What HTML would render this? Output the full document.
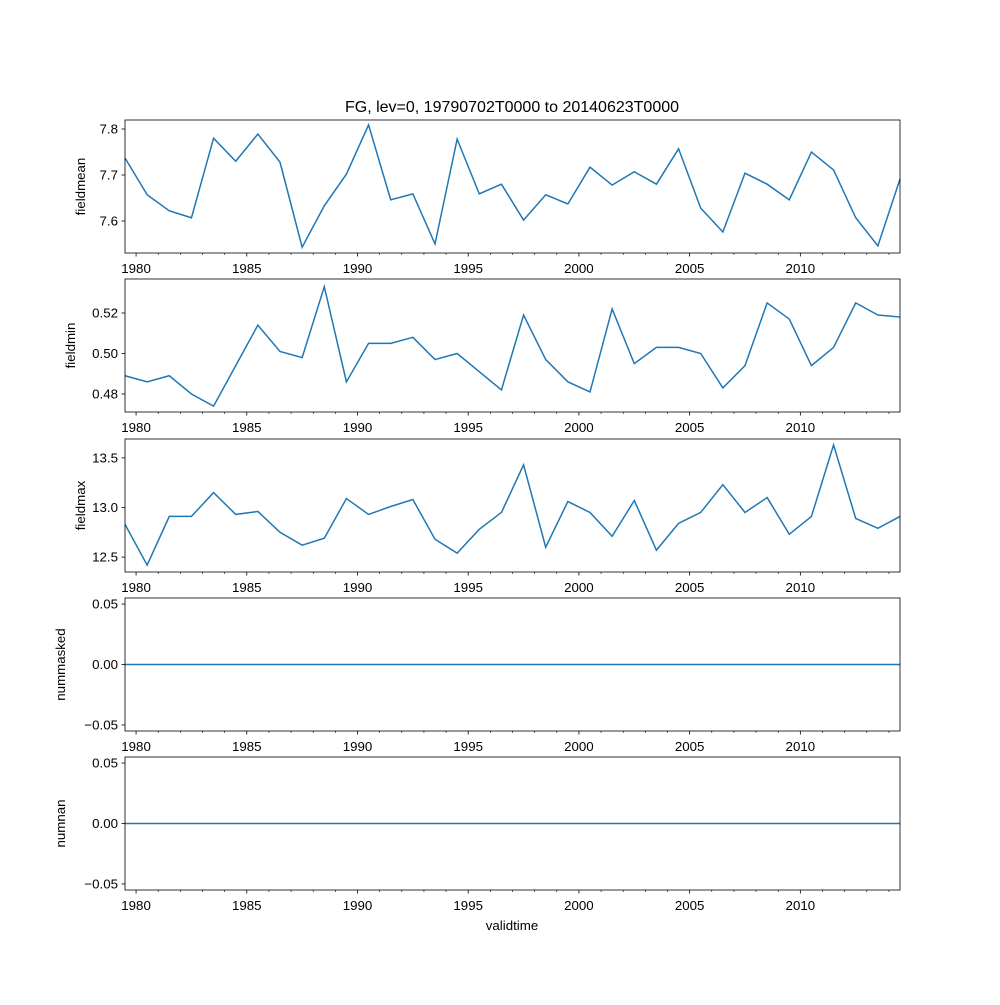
<!DOCTYPE html>
<html><head><meta charset="utf-8"><style>
body{margin:0;background:#fff}
svg text{font-family:"Liberation Sans","DejaVu Sans",sans-serif;font-size:13.3px;fill:#000}
</style></head><body>
<svg id="chart" width="1000" height="1000" xmlns="http://www.w3.org/2000/svg">
<text x="512" y="112" text-anchor="middle" style="font-size:16px">FG, lev=0, 19790702T0000 to 20140623T0000</text>
<text x="512" y="930" text-anchor="middle">validtime</text>
</svg>
<script>
const years = [];
for (let i = 0; i < 36; i++) years.push(1979.5 + i);
const fieldmean = [7.737,7.657,7.622,7.607,7.780,7.730,7.789,7.728,7.543,7.633,7.702,7.809,7.646,7.659,7.550,7.778,7.659,7.680,7.602,7.657,7.637,7.717,7.678,7.707,7.680,7.757,7.628,7.576,7.704,7.680,7.646,7.750,7.711,7.607,7.546,7.691];
const fieldmin = [0.489,0.486,0.489,0.480,0.474,0.494,0.514,0.501,0.498,0.533,0.486,0.505,0.505,0.508,0.497,0.500,0.491,0.482,0.519,0.497,0.486,0.481,0.522,0.495,0.503,0.503,0.500,0.483,0.494,0.525,0.517,0.494,0.503,0.525,0.519,0.518];
const fieldmax = [12.83,12.42,12.91,12.91,13.15,12.93,12.96,12.75,12.62,12.69,13.09,12.93,13.01,13.08,12.68,12.54,12.78,12.95,13.43,12.60,13.06,12.95,12.71,13.07,12.57,12.84,12.95,13.23,12.95,13.10,12.73,12.91,13.63,12.89,12.79,12.91];
const nummasked = years.map(() => 0);
const numnan = years.map(() => 0);
const xTicks = [1980,1985,1990,1995,2000,2005,2010];
const panelNames = ["fieldmean","fieldmin","fieldmax","nummasked","numnan"];
const yTicks1 = ["7.6","7.7","7.8"];
const yTicks2 = ["0.48","0.50","0.52"];
const yTicks3 = ["12.5","13.0","13.5"];
const yTicks4 = ["-0.05","0.00","0.05"];

const NS = "http://www.w3.org/2000/svg";
const svg = document.getElementById("chart");
const X0 = 125, X1 = 900, XMIN = 1979.5, XMAX = 2014.5;
const xs = v => X0 + (v - XMIN) / (XMAX - XMIN) * (X1 - X0);
function mk(tag, attrs) {
  const e = document.createElementNS(NS, tag);
  for (const k in attrs) e.setAttribute(k, attrs[k]);
  svg.appendChild(e);
  return e;
}
const panels = [
  {top:120, bot:253, ymin:7.5304, ymax:7.8196, data:fieldmean, ticks:yTicks1},
  {top:279, bot:412, ymin:0.4711, ymax:0.5368, data:fieldmin, ticks:yTicks2},
  {top:439, bot:572, ymin:12.35, ymax:13.69, data:fieldmax, ticks:yTicks3},
  {top:598, bot:731, ymin:-0.055, ymax:0.055, data:nummasked, ticks:yTicks4},
  {top:757, bot:890, ymin:-0.055, ymax:0.055, data:numnan, ticks:yTicks4}
];
panels.forEach((p, pi) => {
  const ys = v => p.bot - (v - p.ymin) / (p.ymax - p.ymin) * (p.bot - p.top);
  const name = panelNames[pi];
  const d = p.data.map((v, i) => (i ? "L" : "M") + xs(years[i]).toFixed(2) + "," + ys(v).toFixed(2)).join("");
  const path = mk("path", {d: d, fill: "none", stroke: "#1f77b4", "stroke-width": 1.5});
  
  
  const fr = mk("rect", {x: X0, y: p.top, width: X1 - X0, height: p.bot - p.top, fill: "none", stroke: "#000", "stroke-width": 0.8});
  
  
  for (let yr = 1980; yr <= 2014; yr++) {
    const major = yr % 5 === 0;
    const t = mk("line", {x1: xs(yr), x2: xs(yr), y1: p.bot, y2: p.bot + (major ? 3.5 : 2), stroke: "#000", "stroke-width": major ? 0.8 : 0.6});
    
    
  }
  xTicks.forEach(yr => {
    const tx = mk("text", {x: xs(yr), y: p.bot + 20, "text-anchor": "middle"});
    tx.textContent = yr;
    
    
  });
  p.ticks.forEach(s => {
    const v = parseFloat(s);
    const y = ys(v);
    const t = mk("line", {x1: X0 - 3.5, x2: X0, y1: y, y2: y, stroke: "#000", "stroke-width": 0.8});
    
    
    const tx = mk("text", {x: X0 - 7, y: y + 4.5, "text-anchor": "end"});
    tx.textContent = s.replace("-", "\u2212");
    
    
  });
  const lx = pi < 3 ? (pi === 1 ? 75 : 85) : 65;
  const cy = (p.top + p.bot) / 2;
  const lab = mk("text", {x: lx, y: cy, "text-anchor": "middle", transform: "rotate(-90 " + lx + " " + cy + ")"});
  lab.textContent = name;
  
  
});
</script>
</body></html>
